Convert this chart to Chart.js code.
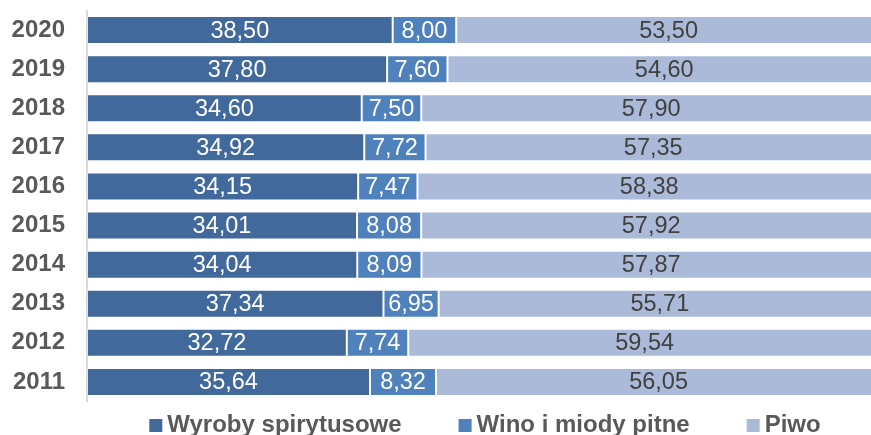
<!DOCTYPE html>
<html><head><meta charset="utf-8">
<script src="https://cdn.jsdelivr.net/npm/chart.js@4.4.0/dist/chart.umd.min.js"></script>
<style>html,body{margin:0;padding:0;background:#fff;}#wrap{width:871px;height:435px;}</style>
</head><body><div id="wrap"><canvas id="c" width="871" height="435"></canvas></div>
<script>
const years = ['2020','2019','2018','2017','2016','2015','2014','2013','2012','2011'];
const spirits = [38.50,37.80,34.60,34.92,34.15,34.01,34.04,37.34,32.72,35.64];
const wine = [8.00,7.60,7.50,7.72,7.47,8.08,8.09,6.95,7.74,8.32];
const beer = [53.50,54.60,57.90,57.35,58.38,57.92,57.87,55.71,59.54,56.05];
const seriesNames = ['Wyroby spirytusowe','Wino i miody pitne','Piwo'];
const colors = ['#41699b','#4f81bd','#aabad8'];
const labelColors = ['#ffffff','#ffffff','#404040'];

const fmt = v => v.toFixed(2).replace('.', ',');

const labelPlugin = {
  id: 'segLabels',
  afterDatasetsDraw(chart) {
    const ctx = chart.ctx;
    const xs = chart.scales.x;
    ctx.save();
    ctx.font = '23.5px "Liberation Sans", Arial, sans-serif';
    ctx.textAlign = 'center';
    ctx.textBaseline = 'middle';
    chart.data.datasets.forEach((ds, di) => {
      const meta = chart.getDatasetMeta(di);
      meta.data.forEach((bar, i) => {
        let start = 0;
        for (let k = 0; k < di; k++) start += chart.data.datasets[k].data[i];
        const mid = start + ds.data[i] / 2;
        ctx.fillStyle = labelColors[di];
        ctx.fillText(fmt(ds.data[i]), xs.getPixelForValue(mid), bar.y + 1);
      });
    });
    ctx.restore();
  }
};

const legendPlugin = {
  id: 'customLegend',
  afterDraw(chart) {
    const ctx = chart.ctx;
    const ca = chart.chartArea;
    ctx.save();
    ctx.font = 'bold 24px "Liberation Sans", Arial, sans-serif';
    ctx.textBaseline = 'alphabetic';
    const box = 13, gap = 5, itemGap = 57;
    const widths = seriesNames.map(n => box + gap + ctx.measureText(n).width);
    const total = widths.reduce((a,b)=>a+b,0) + itemGap * (seriesNames.length - 1);
    let x = (ca.left + ca.right) / 2 + 6 - total / 2;
    const base = 432;
    seriesNames.forEach((n, i) => {
      ctx.fillStyle = colors[i];
      ctx.fillRect(x, base - box, box, box);
      ctx.fillStyle = '#595959';
      ctx.fillText(n, x + box + gap, base);
      x += widths[i] + itemGap;
    });
    ctx.restore();
  }
};

new Chart(document.getElementById('c'), {
  type: 'bar',
  data: {
    labels: years,
    datasets: [
      { label: seriesNames[0], data: spirits, backgroundColor: colors[0] },
      { label: seriesNames[1], data: wine, backgroundColor: colors[1] },
      { label: seriesNames[2], data: beer, backgroundColor: colors[2] }
    ].map(d => Object.assign(d, {
      borderColor: 'rgba(255,255,255,0.3)', borderWidth: 1, borderSkipped: false,
      barPercentage: 0.716, categoryPercentage: 1.0
    }))
  },
  options: {
    indexAxis: 'y',
    responsive: false,
    animation: false,
    layout: { padding: { top: 10.5, bottom: 33.5, left: 0, right: 0 } },
    plugins: { legend: { display: false }, tooltip: { enabled: false } },
    scales: {
      x: { stacked: true, min: 0, max: 98.74, display: false },
      y: {
        stacked: true,
        afterFit(s) { s.width = 87; s.paddingTop = 0; s.paddingBottom = 0; },
        grid: { display: false, drawTicks: false },
        border: { display: true, color: '#d9d9d9', width: 2 },
        ticks: { color: '#595959', padding: 22, font: { family: '"Liberation Sans", Arial, sans-serif', size: 24, weight: 'bold' } }
      }
    }
  },
  plugins: [labelPlugin, legendPlugin]
});
</script>
</body></html>
